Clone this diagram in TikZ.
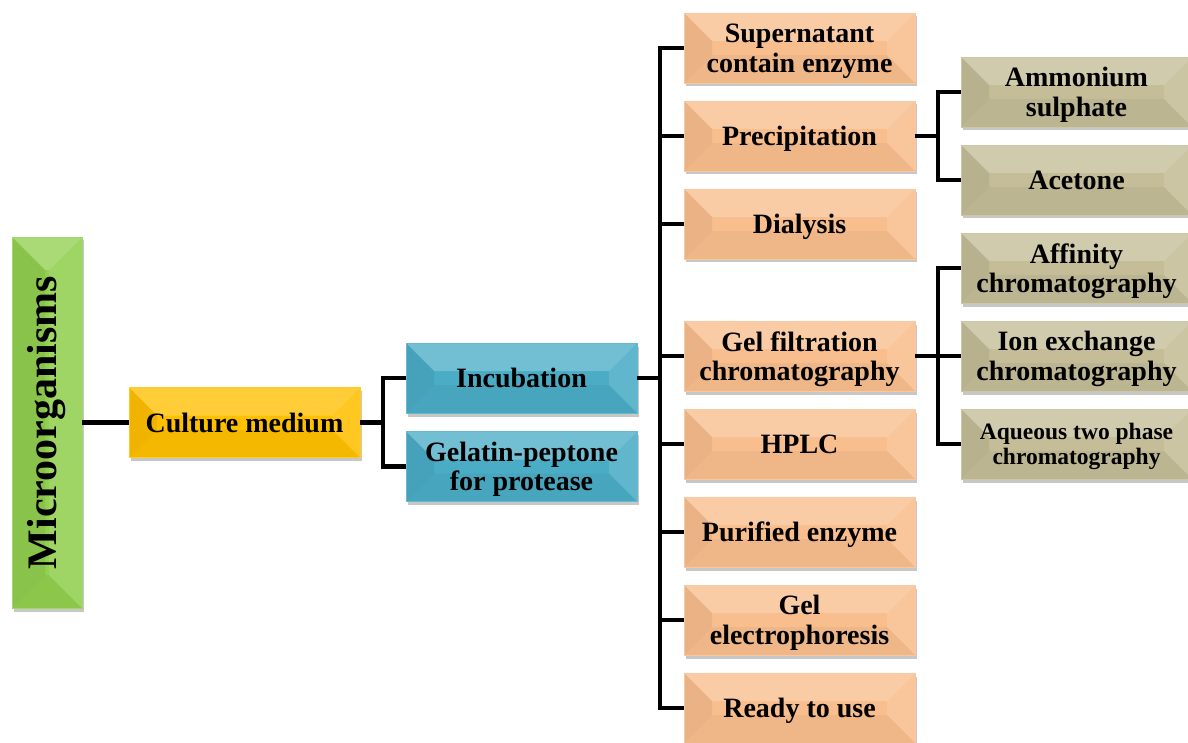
\documentclass[tikz,border=0pt]{standalone}
\usepackage{fontspec}
\setmainfont{Liberation Serif}
\usetikzlibrary{shadows}
\definecolor{cgreen}{HTML}{92D050}
\definecolor{cgold}{HTML}{FFC000}
\definecolor{cblue}{HTML}{4BACC6}
\definecolor{corange}{HTML}{F9BE8E}
\definecolor{ctan}{HTML}{C4BD97}
\tikzset{
  bev/.store in=\bevd, bev=28pt,
  bevelbox/.style={rectangle, minimum width=231pt, minimum height=70pt, inner sep=1pt,
    align=center, font=\fontsize{28}{29.5}\selectfont\bfseries, text=black, text depth=0pt,
    fill=#1, draw=#1!85!white, line width=0.6pt,
    drop shadow={shadow xshift=1.5pt, shadow yshift=-3.5pt, opacity=.22, fill=black},
    path picture={
      \fill[white,opacity=.22] (path picture bounding box.north west) -- (path picture bounding box.north east)
        -- ([xshift=-\bevd,yshift=-\bevd]path picture bounding box.north east)
        -- ([xshift=\bevd,yshift=-\bevd]path picture bounding box.north west) -- cycle;
      \fill[black,opacity=.04] (path picture bounding box.south west) -- (path picture bounding box.south east)
        -- ([xshift=-\bevd,yshift=\bevd]path picture bounding box.south east)
        -- ([xshift=\bevd,yshift=\bevd]path picture bounding box.south west) -- cycle;
      \fill[black,opacity=.06] (path picture bounding box.north west) -- (path picture bounding box.south west)
        -- ([xshift=\bevd,yshift=\bevd]path picture bounding box.south west)
        -- ([xshift=\bevd,yshift=-\bevd]path picture bounding box.north west) -- cycle;
      \fill[white,opacity=.12] (path picture bounding box.north east) -- (path picture bounding box.south east)
        -- ([xshift=-\bevd,yshift=\bevd]path picture bounding box.south east)
        -- ([xshift=-\bevd,yshift=-\bevd]path picture bounding box.north east) -- cycle;
    }},
  link/.style={line width=4.5pt, black, line join=miter}
}
\begin{document}
\begin{tikzpicture}[x=1pt,y=-1pt]
\useasboundingbox (0,0) rectangle (1188,743);
% boxes
\node[bevelbox=cgreen, bev=33pt, minimum width=70pt, minimum height=371pt, font=\fontsize{42}{46}\selectfont\bfseries] (micro) at (47,422.5) {\rotatebox{90}{Microorganisms}};
\node[bevelbox=cgold] (cult) at (244.5,422.5) {Culture medium};
\node[bevelbox=cblue] (inc) at (521.5,378) {Incubation};
\node[bevelbox=cblue] (gel) at (521.5,466.5) {Gelatin-peptone\\for protease};

\node[bevelbox=corange] (sup) at (799.5,48) {Supernatant\\contain enzyme};
\node[bevelbox=corange] (pre) at (799.5,136) {Precipitation};
\node[bevelbox=corange] (dia) at (799.5,224) {Dialysis};
\node[bevelbox=corange] (gfc) at (799.5,356) {Gel filtration\\chromatography};
\node[bevelbox=corange] (hplc) at (799.5,444) {HPLC};
\node[bevelbox=corange] (pur) at (799.5,532) {Purified enzyme};
\node[bevelbox=corange] (gele) at (799.5,620) {Gel\\electrophoresis};
\node[bevelbox=corange] (rtu) at (799.5,708) {Ready to use};

\node[bevelbox=ctan] (amm) at (1076.5,92) {Ammonium\\sulphate};
\node[bevelbox=ctan] (ace) at (1076.5,180) {Acetone};
\node[bevelbox=ctan] (aff) at (1076.5,268) {Affinity\\chromatography};
\node[bevelbox=ctan] (ion) at (1076.5,356) {Ion exchange\\chromatography};
\node[bevelbox=ctan, font=\fontsize{23.5}{25}\selectfont\bfseries] (aq) at (1076.5,444) {Aqueous two phase\\chromatography};

% junctions
\coordinate (j1) at (383,422.5);
\coordinate (j2) at (660,378);
\coordinate (j3) at (938,136);
\coordinate (j4) at (938,356);

% connectors
\draw[link] (micro.east) -- (cult.west);
\draw[link] (cult.east) -- (j1);
\draw[link] (inc.west) -| (j1);
\draw[link] (gel.west) -| (j1);
\draw[link] (inc.east) -- (j2);
\foreach \n in {sup,pre,dia,gfc,hplc,pur,gele,rtu} \draw[link] (\n.west) -| (j2);
\draw[link] (pre.east) -- (j3);
\foreach \n in {amm,ace} \draw[link] (\n.west) -| (j3);
\draw[link] (gfc.east) -- (j4);
\foreach \n in {aff,ion,aq} \draw[link] (\n.west) -| (j4);
\end{tikzpicture}
\end{document}
